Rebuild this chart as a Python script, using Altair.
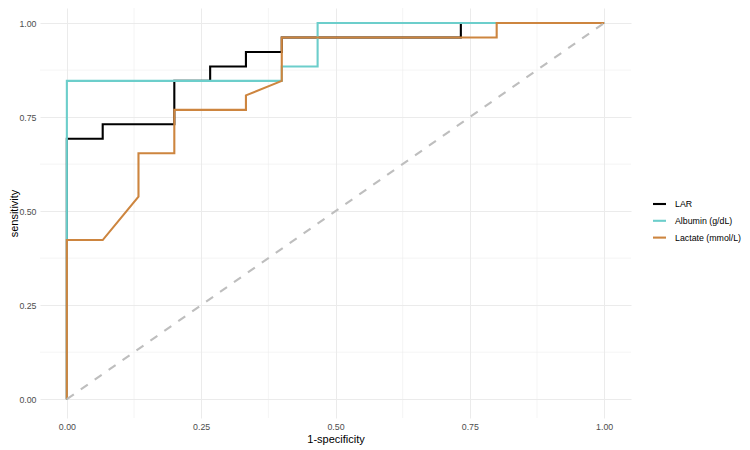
import altair as alt
import pandas as pd

# ROC curve points
series_names = ["LAR", "Albumin (g/dL)", "Lactate (mmol/L)"]
series_colors = ["#000000", "#6CCECB", "#CD853F"]

lar_fpr = [0.0, 0.0, 0.0667, 0.0667, 0.2, 0.2, 0.2667, 0.2667, 0.3333, 0.3333, 0.4, 0.4, 0.7333, 0.7333, 1.0]
lar_tpr = [0.0, 0.6923, 0.6923, 0.7308, 0.7308, 0.8462, 0.8462, 0.8846, 0.8846, 0.9231, 0.9231, 0.9615, 0.9615, 1.0, 1.0]

alb_fpr = [0.0, 0.0, 0.4, 0.4, 0.4667, 0.4667, 1.0]
alb_tpr = [0.0, 0.8462, 0.8462, 0.8846, 0.8846, 1.0, 1.0]

lac_fpr = [0.0, 0.0, 0.0667, 0.1333, 0.1333, 0.2, 0.2, 0.3333, 0.3333, 0.4, 0.4, 0.8, 0.8, 1.0]
lac_tpr = [0.0, 0.4231, 0.4231, 0.5385, 0.6538, 0.6538, 0.7692, 0.7692, 0.8077, 0.8462, 0.9615, 0.9615, 1.0, 1.0]

diag_x = [0.0, 1.0]
diag_y = [0.0, 1.0]

major_ticks = [0.0, 0.25, 0.5, 0.75, 1.0]
minor_ticks = [0.125, 0.375, 0.625, 0.875]

rows = []
for name, xs, ys in [(series_names[0], lar_fpr, lar_tpr),
                     (series_names[1], alb_fpr, alb_tpr),
                     (series_names[2], lac_fpr, lac_tpr)]:
    for i, (xv, yv) in enumerate(zip(xs, ys)):
        rows.append({"series": name, "idx": i, "fpr": xv, "tpr": yv})
df = pd.DataFrame(rows)

xscale = alt.Scale(domain=[-0.05, 1.05], nice=False, zero=False)
yscale = alt.Scale(domain=[-0.05, 1.04], nice=False, zero=False)

xaxis = alt.Axis(values=major_ticks, format=".2f", title="1-specificity",
                 grid=True, ticks=False, domain=False, labelPadding=4,
                 titleX=295.5, titleY=24.5, titleBaseline="alphabetic",
                 titleAlign="center", titleAngle=0)
yaxis = alt.Axis(values=major_ticks, format=".2f", title="sensitivity",
                 grid=True, ticks=False, domain=False, labelPadding=4,
                 titleX=-26, titleY=205, titleBaseline="middle",
                 titleAlign="center", titleAngle=270)

minor_df = pd.DataFrame({"v": minor_ticks})
minor_x = alt.Chart(minor_df).mark_rule(color="#EBEBEB", strokeWidth=0.55).encode(
    x=alt.X("v:Q", scale=xscale, axis=xaxis))
minor_y = alt.Chart(minor_df).mark_rule(color="#EBEBEB", strokeWidth=0.55).encode(
    y=alt.Y("v:Q", scale=yscale, axis=yaxis))

color_scale = alt.Scale(domain=series_names, range=series_colors)
legend = alt.Legend(title=None, orient="none", legendX=611.5, legendY=188,
                    symbolType="stroke", symbolSize=169, symbolStrokeWidth=2.1,
                    labelFontSize=8.8, labelFont="Liberation Sans", labelColor="#000000",
                    labelOffset=7.5, rowPadding=3.8, padding=0)

layers = [minor_x, minor_y]
for name in series_names:
    layers.append(
        alt.Chart(df).transform_filter(alt.datum.series == name)
        .mark_line(strokeWidth=2.1, interpolate="linear", strokeCap="butt")
        .encode(
            x=alt.X("fpr:Q", scale=xscale, axis=xaxis),
            y=alt.Y("tpr:Q", scale=yscale, axis=yaxis),
            color=alt.Color("series:N", scale=color_scale, legend=legend),
            order=alt.Order("idx:Q"),
        )
    )

diag_df = pd.DataFrame({"x": diag_x, "y": diag_y})
diag = alt.Chart(diag_df).mark_line(color="#BEBEBE", strokeWidth=2.1, strokeDash=[8.5, 8.5]).encode(
    x=alt.X("x:Q", scale=xscale, axis=xaxis),
    y=alt.Y("y:Q", scale=yscale, axis=yaxis),
)
layers.append(diag)

chart = alt.layer(*layers).properties(
    width=591, height=410,
    autosize=alt.AutoSizeParams(type="none"),
    padding={"left": 32, "top": 0, "right": 111, "bottom": 30},
).configure_view(stroke=None).configure_axis(
    gridColor="#EBEBEB", gridWidth=1.07,
    labelFont="Liberation Sans", labelFontSize=8.8, labelColor="#4D4D4D",
    titleFont="Liberation Sans", titleFontSize=11, titleColor="#000000",
    titleFontWeight="normal",
)

chart.save("out.html", embed_options={"renderer": "svg", "actions": False})
